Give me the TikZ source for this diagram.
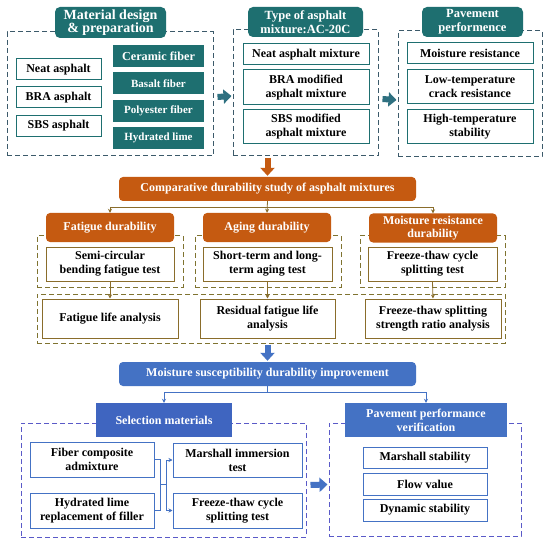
\documentclass[tikz,border=0pt]{standalone}
\usepackage{fontspec}
\setmainfont{Liberation Serif}
\usetikzlibrary{arrows.meta}
\definecolor{tealc}{HTML}{1E6F70}
\definecolor{tealdash}{HTML}{3C5A6A}
\definecolor{tealarr}{HTML}{2E7080}
\definecolor{orgc}{HTML}{C55A11}
\definecolor{olivec}{HTML}{8A6D2B}
\definecolor{olivedash}{HTML}{7F7330}
\definecolor{bluec}{HTML}{4472C4}
\definecolor{bluedark}{HTML}{3F65C0}
\definecolor{bluedash}{HTML}{5A5AC8}
\tikzset{wh/.style n args={2}{minimum width=#1pt,minimum height=#2pt}}

\begin{document}
\begin{tikzpicture}[x=1pt,y=-1pt,font=\bfseries\fontsize{12}{14}\selectfont,
  grp/.style={draw,dashed,dash pattern=on 5pt off 3pt,line width=1pt,inner sep=0pt},
  tbox/.style={draw=tealc,line width=1pt,fill=white,align=center,inner sep=1pt},
  tfill/.style={fill=tealc,text=white,align=center,inner sep=1pt,font=\bfseries\fontsize{11}{12}\selectfont},
  ttitle/.style={fill=tealc,text=white,rounded corners=5pt,align=center,inner sep=1pt,font=\bfseries\fontsize{12.5}{14}\selectfont},
  obox/.style={draw=olivec,line width=1pt,fill=white,align=center,inner sep=1pt},
  otitle/.style={fill=orgc,text=white,rounded corners=4pt,align=center,inner sep=1pt,font=\bfseries\fontsize{12}{12.5}\selectfont},
  bbox/.style={draw=bluec,line width=1pt,fill=white,align=center,inner sep=1pt},
  btitle/.style={fill=bluedark,text=white,align=center,inner sep=1pt,font=\bfseries\fontsize{12}{14}\selectfont},
  blk/.style={line width=6pt,-{Triangle[length=8pt,width=14pt]}},
  thin/.style={line width=0.8pt,-{Stealth[length=4pt,width=4pt]}}]
\useasboundingbox[fill=white] (0,0) rectangle (550,543);

% material design and mixture types
\node[grp,draw=tealdash,wh={206}{124}] (grp1) at (110,94) {};
\node[grp,draw=tealdash,wh={145}{126}] (grp2) at (305.5,93) {};
\node[grp,draw=tealdash,wh={144}{126}] (grp3) at (470,94) {};
\node[ttitle,wh={111}{31},font=\bfseries\fontsize{14}{13}\selectfont] (mdt) at (110.5,22.5) {Material design\\\& preparation};
\node[ttitle,wh={115}{30}] (tyt) at (305.5,22) {Type of asphalt\\mixture:AC-20C};
\node[ttitle,wh={101}{30}] (ppt) at (472.5,22) {Pavement\\performence};

\node[tbox,wh={85}{21}] (neat) at (58.5,69.5) {Neat asphalt};
\node[tbox,wh={85}{21}] (bra) at (58.5,97.5) {BRA asphalt};
\node[tbox,wh={85}{21}] (sbs) at (58.5,126) {SBS asphalt};
\node[tfill,wh={91}{22},font=\bfseries\fontsize{12.2}{13}\selectfont] (cer) at (158.5,56) {Ceramic fiber};
\node[tfill,wh={91}{22}] (bas) at (158.5,83.5) {Basalt fiber};
\node[tfill,wh={91}{22}] (pol) at (158.5,111) {Polyester fiber};
\node[tfill,wh={91}{22}] (lim) at (158.5,138) {Hydrated lime};

\node[tbox,wh={126}{21}] (mx1) at (306,54.5) {Neat asphalt mixture};
\node[tbox,wh={126}{35}] (mx2) at (306,87.5) {BRA modified\\asphalt mixture};
\node[tbox,wh={126}{34}] (mx3) at (306,127) {SBS modified\\asphalt mixture};

\node[tbox,wh={126}{21}] (pf1) at (470,53.5) {Moisture resistance};
\node[tbox,wh={126}{34}] (pf2) at (470,87) {Low-temperature\\crack resistance};
\node[tbox,wh={126}{34}] (pf3) at (470,127) {High-temperature\\stability};

\draw[blk,tealarr] ([xshift=4pt,yshift=-3pt]grp1.east) -- ([xshift=-1pt,yshift=-3pt]grp2.west);
\draw[blk,tealarr] ([xshift=4pt,yshift=-6pt]grp2.east) -- ([xshift=-1pt,yshift=-6pt]grp3.west);

% comparative durability study
\node[otitle,wh={297}{24}] (cmp) at (267.5,189) {Comparative durability study of asphalt mixtures};
\draw[blk,orgc] ([yshift=-2pt]cmp.north |- grp2.south) -- ([yshift=1pt]cmp.north);

\node[grp,draw=olivedash,wh={146}{51}] (g4) at (110,261.5) {};
\node[grp,draw=olivedash,wh={146}{51}] (g5) at (268,261.5) {};
\node[grp,draw=olivedash,wh={145}{51}] (g6) at (432.5,261.5) {};
\node[grp,draw=olivedash,wh={468}{49}] (g7) at (271,318.5) {};

\node[otitle,wh={128}{29}] (fat) at (110,227.5) {Fatigue durability};
\node[otitle,wh={128}{29}] (age) at (267,227.5) {Aging durability};
\node[otitle,wh={128}{29}] (moi) at (433,228) {Moisture resistance\\durability};

\node[obox,wh={128}{34}] (t1) at (110,264) {Semi-circular\\bending fatigue test};
\node[obox,wh={129}{34}] (t2) at (267.5,264) {Short-term and long-\\term aging test};
\node[obox,wh={129}{34}] (t3) at (432.5,264) {Freeze-thaw cycle\\splitting test};

\node[obox,wh={136}{39}] (a1) at (110,318.5) {Fatigue life analysis};
\node[obox,wh={135}{39}] (a2) at (267.5,318.5) {Residual fatigue life\\analysis};
\node[obox,wh={136}{39}] (a3) at (433,318.5) {Freeze-thaw splitting\\strength ratio analysis};

\draw[thin,olivec] (cmp.south) -- (age.north);
\draw[thin,olivec] (cmp.south) ++(0,6) -| (fat.north);
\draw[thin,olivec] (cmp.south) ++(0,6) -| (moi.north);
\foreach \t/\a in {t1/a1,t2/a2,t3/a3}
  \draw[thin,olivec] (\t.south) -- (\a.north);

% moisture susceptibility improvement
\node[fill=bluec,text=white,rounded corners=4pt,inner sep=1pt,wh={297}{24},font=\bfseries\fontsize{12}{14}\selectfont] (msi) at (267.5,374) {Moisture susceptibility durability improvement};
\draw[blk,bluec] ([yshift=-1pt]msi.north |- g7.south) -- ([yshift=1pt]msi.north);

\node[grp,draw=bluedash,wh={285}{114}] (g8) at (163.5,480) {};
\node[grp,draw=bluedash,wh={192}{113}] (g9) at (425,479.5) {};
\node[btitle,wh={136}{34}] (sel) at (164,420) {Selection materials};
\node[btitle,fill=bluec,wh={162}{34}] (ppv) at (426,420) {Pavement performance\\verification};

\draw[thin,bluec] (msi.south) ++(0,6) -| (sel.north);
\draw[thin,bluec] (msi.south) ++(0,6) -| (ppv.north);
\draw[line width=0.8pt,bluec] (msi.south) -- ++(0,6);

\node[bbox,wh={124}{35}] (fc) at (92,459.5) {Fiber composite\\admixture};
\node[bbox,wh={124}{35}] (hl) at (92,510.5) {Hydrated lime\\replacement of filler};
\node[bbox,wh={129}{34}] (mit) at (237.5,460) {Marshall immersion\\test};
\node[bbox,wh={129}{35}] (fts) at (237.5,510.5) {Freeze-thaw cycle\\splitting test};

\coordinate (jl) at (160,484);
\coordinate (jr) at (166,484);
\draw[line width=0.8pt,bluec] (fc.east) -| (jl) -- (jr);
\draw[line width=0.8pt,bluec] (hl.east) -| (jl);
\draw[thin,bluec] (jr) |- (mit.west);
\draw[thin,bluec] (jr) |- (fts.west);

\node[bbox,wh={124}{21}] (v1) at (425,457.5) {Marshall stability};
\node[bbox,wh={124}{22}] (v2) at (425,484) {Flow value};
\node[bbox,wh={124}{22}] (v3) at (425,510) {Dynamic stability};

\draw[blk,bluec] ([xshift=4pt,yshift=-5pt]g8.east) -- ([xshift=-1pt,yshift=-5pt]g9.west);
\end{tikzpicture}
\end{document}
